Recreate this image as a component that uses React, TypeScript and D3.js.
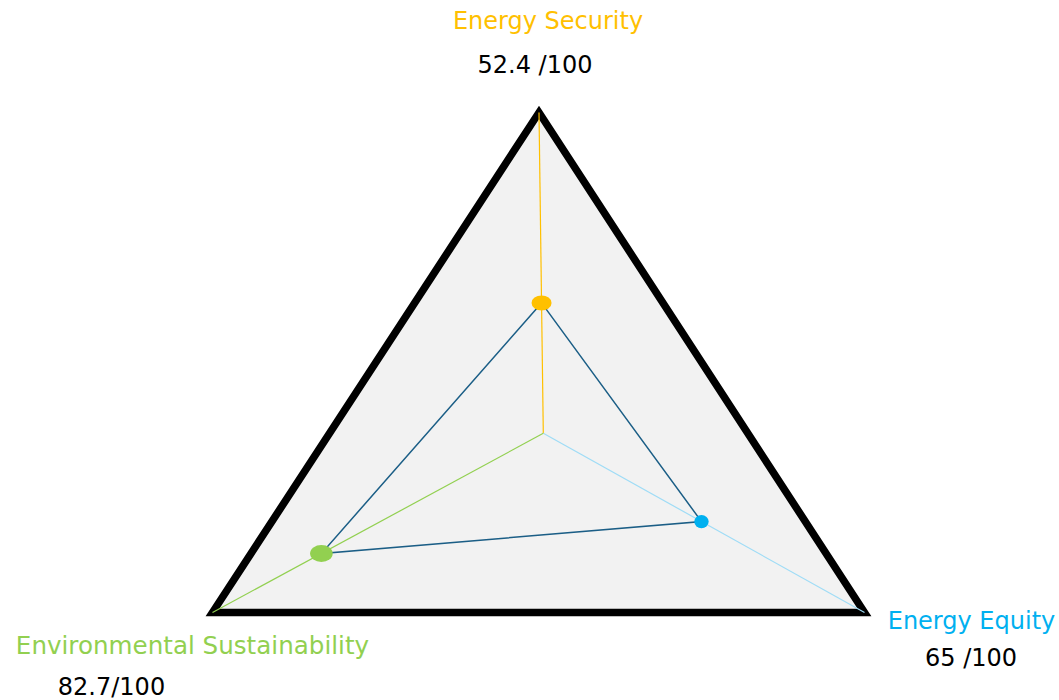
import React from "react";
import * as d3 from "d3";

// ---- data ----
const categories: string[] = ["Energy Security", "Energy Equity", "Environmental Sustainability"];
const scores: number[] = [52.4, 65, 82.7];
const scoreLabels: string[] = ["52.4 /100", "65 /100", "82.7/100"];
const colors: string[] = ["#FFC000", "#00B0F0", "#92D050"];
const axisColors: string[] = ["#FFC000", "#9FDCF6", "#92D050"];
const scaleDomain: number[] = [20, 100];

const W = 1059;
const H = 700;

export default function App() {
  const cx = 543.3;
  const cy = 433.3;
  // triangle vertices (layout)
  const vertices: [number, number][] = [
    [539, 112.5],
    [864.5, 612.5],
    [212.5, 612.5],
  ];
  const angles = vertices.map(([x, y]) => Math.atan2(y - cy, x - cx));
  const r = d3.scaleLinear().domain(scaleDomain).range([0, 322]);

  const pts = scores.map((v, i) => [
    cx + Math.cos(angles[i]) * r(v),
    cy + Math.sin(angles[i]) * r(v),
  ]);

  const closed = d3.line().curve(d3.curveLinearClosed);
  const markerR: [number, number][] = [
    [10, 7.5],
    [7.2, 6.6],
    [11.3, 8.4],
  ];

  const labelPos = [
    { x: 548, y: 28.5, nx: 535, ny: 72.5, fs: 24 },
    { x: 971.5, y: 628.5, nx: 971, ny: 665.5, fs: 24 },
    { x: 192.5, y: 653.5, nx: 111.5, ny: 694.5, fs: 24.6 },
  ];

  return (
    <svg
      width={W}
      height={H}
      style={{ position: "absolute", left: 0, top: 0, background: "#fff" }}
      fontFamily="'DejaVu Sans', sans-serif"
    >
      <path
        d={closed(vertices) || ""}
        fill="#F2F2F2"
        stroke="#000"
        strokeWidth={7.5}
        strokeLinejoin="miter"
      />
      {vertices.map(([x, y], i) => (
        <line key={i} x1={cx} y1={cy} x2={x} y2={y} stroke={axisColors[i]} strokeWidth={1.2} />
      ))}
      <path
        d={closed(pts as [number, number][]) || ""}
        fill="none"
        stroke="#1B5E86"
        strokeWidth={1.5}
      />
      {pts.map(([x, y], i) => (
        <ellipse key={i} cx={x} cy={y} rx={markerR[i][0]} ry={markerR[i][1]} fill={colors[i]} />
      ))}
      {categories.map((c, i) => (
        <g key={c}>
          <text x={labelPos[i].x} y={labelPos[i].y} textAnchor="middle" fontSize={labelPos[i].fs} fill={colors[i]}>
            {c}
          </text>
          <text x={labelPos[i].nx} y={labelPos[i].ny} textAnchor="middle" fontSize={24} fill="#000">
            {scoreLabels[i]}
          </text>
        </g>
      ))}
    </svg>
  );
}
